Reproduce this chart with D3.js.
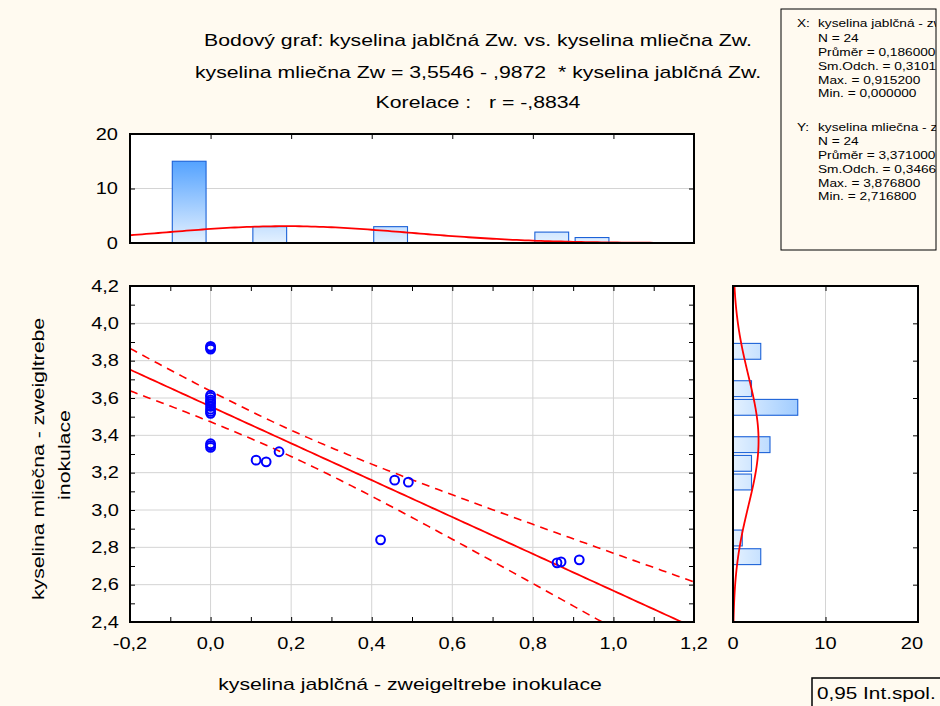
<!DOCTYPE html>
<html>
<head>
<meta charset="utf-8">
<script src="https://cdn.jsdelivr.net/npm/d3@7"></script>
<style>
body { margin: 0; background: #fffaf0; }
text { font-family: "Liberation Sans", Arial, sans-serif; fill: #000; white-space: pre; }
</style>
</head>
<body>
<div id="chart"></div>
<script>
// data
var xVals = [0, 0, 0, 0, 0, 0, 0, 0, 0, 0, 0, 0, 0, 0, 0,
    0.113, 0.138, 0.170, 0.422, 0.457, 0.491, 0.860, 0.870, 0.9152];
var yVals = [3.8768, 3.870, 3.862, 3.615, 3.605, 3.590, 3.580, 3.570, 3.555, 3.540, 3.528, 3.518, 3.355, 3.345, 3.335,
    3.267, 3.258, 3.312, 2.840, 3.160, 3.149, 2.7168, 2.722, 2.733];

// histogram bins (start of bin, width 0.1) and counts
var xBinStart = [-0.1, 0.1, 0.4, 0.8, 0.9];
var xBinCount = [15, 3, 3, 2, 1];
var yBinStart = [3.8, 3.6, 3.5, 3.3, 3.2, 3.1, 2.8, 2.7];
var yBinCount = [3, 2, 7, 4, 2, 2, 1, 3];
var binWidth = 0.1;

var xTicks = [-0.2, 0, 0.2, 0.4, 0.6, 0.8, 1.0, 1.2];
var yTicks = [2.4, 2.6, 2.8, 3.0, 3.2, 3.4, 3.6, 3.8, 4.0, 4.2];
var countTicks = [0, 10, 20];

// fit and summary values printed on the chart
var intercept = 3.5546, slope = -0.9872, r = -0.8834;
var n = 24, xMean = 0.186, xSd = 0.3101, yMean = 3.371, ySd = 0.3466;
var tCrit = 2.074; // t(0.975, 22)

var titleLines = [
    "Bodový graf: kyselina jablčná Zw. vs. kyselina mliečna Zw.",
    "kyselina mliečna Zw = 3,5546 - ,9872  * kyselina jablčná Zw.",
    "Korelace :   r = -,8834"
];
var statsX = ["N = 24", "Průměr = 0,186000", "Sm.Odch. = 0,310140", "Max. = 0,915200", "Min. = 0,000000"];
var statsY = ["N = 24", "Průměr = 3,371000", "Sm.Odch. = 0,346642", "Max. = 3,876800", "Min. = 2,716800"];

var sx = 1.25; // text is drawn wide in the original

var svg = d3.select('#chart').append('svg')
    .attr('width', 940)
    .attr('height', 706);

svg.append('rect').attr('width', 940).attr('height', 706).attr('fill', '#fffaf0');

var defs = svg.append('defs');

function label(parent, x, y, str, size, anchor, rotate, stretch) {
    return parent.append('text')
        .attr('transform', 'translate(' + x + ',' + y + ')' + (rotate ? ' rotate(-90)' : '') + ' scale(' + (stretch || sx) + ',1)')
        .attr('text-anchor', anchor || 'start')
        .attr('dy', '0.35em')
        .attr('xml:space', 'preserve')
        .style('font-size', size + 'px')
        .text(str);
}

var locale = d3.formatLocale({decimal: ",", thousands: " ", grouping: [3], currency: ["", ""], minus: "-"});
var fmt1 = locale.format(".1f");

// scales
var x = d3.scaleLinear().domain([-0.2, 1.2]).range([130, 694]);
var y = d3.scaleLinear().domain([2.4, 4.2]).range([622, 286]);
var cTop = d3.scaleLinear().domain([0, 20]).range([243, 134]);
var cRight = d3.scaleLinear().domain([0, 20]).range([733, 918]);

// gradients
var gTop = defs.append('linearGradient').attr('id', 'gTop')
    .attr('gradientUnits', 'userSpaceOnUse')
    .attr('x1', 0).attr('y1', cTop(0)).attr('x2', 0).attr('y2', cTop(20));
gTop.append('stop').attr('offset', 0).attr('stop-color', '#e4f1ff');
gTop.append('stop').attr('offset', 1).attr('stop-color', '#2488ff');
var gRight = defs.append('linearGradient').attr('id', 'gRight')
    .attr('gradientUnits', 'userSpaceOnUse')
    .attr('x1', cRight(0)).attr('y1', 0).attr('x2', cRight(20)).attr('y2', 0);
gRight.append('stop').attr('offset', 0).attr('stop-color', '#e4f1ff');
gRight.append('stop').attr('offset', 1).attr('stop-color', '#2488ff');

defs.append('clipPath').attr('id', 'clipMain').append('rect')
    .attr('x', 130).attr('y', 286).attr('width', 564).attr('height', 336);

// ---------- titles ----------
titleLines.forEach(function (t, i) {
    label(svg, 478, [40, 72, 102][i], t, 17, 'middle');
});

// ---------- main scatter ----------
var main = svg.append('g');
main.append('rect').attr('x', 130).attr('y', 286).attr('width', 564).attr('height', 336).attr('fill', '#fff');

main.selectAll('.vgrid').data(xTicks.slice(1, -1)).enter().append('line')
    .attr('x1', function (d) { return x(d); }).attr('x2', function (d) { return x(d); })
    .attr('y1', 286).attr('y2', 622)
    .attr('stroke', '#d4d4d4').attr('stroke-width', 1);
main.selectAll('.hgrid').data(yTicks.slice(1, -1)).enter().append('line')
    .attr('y1', function (d) { return y(d); }).attr('y2', function (d) { return y(d); })
    .attr('x1', 130).attr('x2', 694)
    .attr('stroke', '#d4d4d4').attr('stroke-width', 1);

// regression line and 95% bands
var sRes = ySd * Math.sqrt(1 - r * r) * Math.sqrt((n - 1) / (n - 2));
var sxx = (n - 1) * xSd * xSd;
function fit(v) { return intercept + slope * v; }
function half(v) { return tCrit * sRes * Math.sqrt(1 / n + (v - xMean) * (v - xMean) / sxx); }
var xs = d3.range(-0.2, 1.2001, 0.01);

var lineGen = d3.line().x(function (d) { return x(d[0]); }).y(function (d) { return y(d[1]); });
var lines = main.append('g').attr('clip-path', 'url(#clipMain)');
lines.append('path').attr('d', lineGen(xs.map(function (v) { return [v, fit(v)]; })))
    .attr('fill', 'none').attr('stroke', '#ff0000').attr('stroke-width', 1.8);
[1, -1].forEach(function (sgn) {
    lines.append('path').attr('d', lineGen(xs.map(function (v) { return [v, fit(v) + sgn * half(v)]; })))
        .attr('fill', 'none').attr('stroke', '#ff0000').attr('stroke-width', 1.6)
        .attr('stroke-dasharray', '8,6');
});

main.selectAll('.pt').data(xVals).enter().append('circle')
    .attr('cx', function (d) { return x(d); })
    .attr('cy', function (d, i) { return y(yVals[i]); })
    .attr('r', 4.4)
    .attr('fill', 'none').attr('stroke', '#0000ff').attr('stroke-width', 2);

// ticks every 0.1, inward, on all four sides
var xMinor = d3.range(-0.2, 1.2001, 0.1);
var yMinor = d3.range(2.4, 4.2001, 0.1);
main.append('g').attr('transform', 'translate(0,622)')
    .call(d3.axisBottom(x).tickValues(xMinor).tickSize(-5).tickFormat(''));
main.append('g').attr('transform', 'translate(0,286)')
    .call(d3.axisTop(x).tickValues(xMinor).tickSize(-5).tickFormat(''));
main.append('g').attr('transform', 'translate(130,0)')
    .call(d3.axisLeft(y).tickValues(yMinor).tickSize(-5).tickFormat(''));
main.append('g').attr('transform', 'translate(694,0)')
    .call(d3.axisRight(y).tickValues(yMinor).tickSize(-5).tickFormat(''));
main.selectAll('.domain').remove();

xTicks.forEach(function (d) {
    label(main, x(d), 643, fmt1(d), 16, 'middle');
});
yTicks.forEach(function (d) {
    label(main, 119, y(d), fmt1(d), 16, 'end');
});

main.append('rect').attr('x', 130).attr('y', 286).attr('width', 564).attr('height', 336)
    .attr('fill', 'none').attr('stroke', '#000').attr('stroke-width', 2);

label(svg, 410, 684, "kyselina jablčná - zweigeltrebe inokulace", 17, 'middle');
label(svg, 38, 459, "kyselina mliečna - zweigltrebe", 17, 'middle', true);
label(svg, 64, 455, "inokulace", 17, 'middle', true);

// ---------- top histogram ----------
var topHist = svg.append('g');
topHist.append('rect').attr('x', 130).attr('y', 134).attr('width', 564).attr('height', 109).attr('fill', '#fff');
topHist.append('line').attr('x1', 130).attr('x2', 694).attr('y1', cTop(10)).attr('y2', cTop(10))
    .attr('stroke', '#d4d4d4');
topHist.selectAll('.bar').data(xBinStart).enter().append('rect')
    .attr('x', function (d) { return x(d) + 2; })
    .attr('width', function (d) { return x(d + binWidth) - x(d) - 6.5; })
    .attr('y', function (d, i) { return cTop(xBinCount[i]); })
    .attr('height', function (d, i) { return cTop(0) - cTop(xBinCount[i]); })
    .attr('fill', 'url(#gTop)').attr('stroke', '#1c62d8').attr('stroke-width', 1.1);

function normCount(v, m, s) {
    return n * binWidth * Math.exp(-0.5 * Math.pow((v - m) / s, 2)) / (s * Math.sqrt(2 * Math.PI));
}
topHist.append('path')
    .attr('d', d3.line().x(function (v) { return x(v); }).y(function (v) { return cTop(normCount(v, xMean, xSd)); })(xs))
    .attr('fill', 'none').attr('stroke', '#ff0000').attr('stroke-width', 1.8);

topHist.append('g').attr('transform', 'translate(0,134)')
    .call(d3.axisTop(x).tickValues(xTicks).tickSize(-5).tickFormat(''));
topHist.append('g').attr('transform', 'translate(130,0)')
    .call(d3.axisLeft(cTop).tickValues(countTicks).tickSize(-5).tickFormat(''));
topHist.append('g').attr('transform', 'translate(694,0)')
    .call(d3.axisRight(cTop).tickValues(countTicks).tickSize(-5).tickFormat(''));
topHist.selectAll('.domain').remove();
countTicks.forEach(function (d) {
    label(topHist, 118, cTop(d), String(d), 16, 'end');
});
topHist.append('rect').attr('x', 130).attr('y', 134).attr('width', 564).attr('height', 109)
    .attr('fill', 'none').attr('stroke', '#000').attr('stroke-width', 2);

// ---------- right histogram ----------
var side = svg.append('g');
side.append('rect').attr('x', 733).attr('y', 286).attr('width', 185).attr('height', 336).attr('fill', '#fff');
side.append('line').attr('x1', cRight(10)).attr('x2', cRight(10)).attr('y1', 286).attr('y2', 622)
    .attr('stroke', '#d4d4d4');
side.selectAll('.bar').data(yBinStart).enter().append('rect')
    .attr('x', cRight(0))
    .attr('width', function (d, i) { return cRight(yBinCount[i]) - cRight(0); })
    .attr('y', function (d) { return y(d + binWidth) + 1.4; })
    .attr('height', function (d) { return y(d) - y(d + binWidth) - 2.8; })
    .attr('fill', 'url(#gRight)').attr('stroke', '#1c62d8').attr('stroke-width', 1.1);

var ys = d3.range(2.4, 4.2001, 0.01);
side.append('path')
    .attr('d', d3.line().x(function (v) { return cRight(normCount(v, yMean, ySd)); }).y(function (v) { return y(v); })(ys))
    .attr('fill', 'none').attr('stroke', '#ff0000').attr('stroke-width', 1.8);

side.append('g').attr('transform', 'translate(918,0)')
    .call(d3.axisRight(y).tickValues(yTicks).tickSize(-5).tickFormat(''));
side.append('g').attr('transform', 'translate(0,622)')
    .call(d3.axisBottom(cRight).tickValues(countTicks).tickSize(-5).tickFormat(''));
side.append('g').attr('transform', 'translate(0,286)')
    .call(d3.axisTop(cRight).tickValues(countTicks).tickSize(-5).tickFormat(''));
side.selectAll('.domain').remove();
countTicks.forEach(function (d) {
    label(side, cRight(d) - (d === 20 ? 6 : 0), 643, String(d), 16, 'middle');
});
side.append('rect').attr('x', 733).attr('y', 286).attr('width', 185).attr('height', 336)
    .attr('fill', 'none').attr('stroke', '#000').attr('stroke-width', 2);

// ---------- stats box (text is cut by the box edge, as in the original) ----------
defs.append('clipPath').attr('id', 'clipStats').append('rect')
    .attr('x', 781).attr('y', 9).attr('width', 155).attr('height', 241);
var box = svg.append('g');
box.append('rect').attr('x', 781).attr('y', 9).attr('width', 155).attr('height', 241)
    .attr('fill', '#fffaf0').attr('stroke', '#000').attr('stroke-width', 1);
var boxText = box.append('g').attr('clip-path', 'url(#clipStats)');
var bs = 1.16;
label(boxText, 797, 23, "X:", 11.8, 'start', false, bs);
label(boxText, 818, 23, "kyselina jablčná - zweigeltrebe inokulace", 11.8, 'start', false, bs);
statsX.forEach(function (s, i) { label(boxText, 818, 38 + i * 13.8, s, 11.8, 'start', false, bs); });
label(boxText, 797, 127, "Y:", 11.8, 'start', false, bs);
label(boxText, 818, 127, "kyselina mliečna - zweigeltrebe inokulace", 11.8, 'start', false, bs);
statsY.forEach(function (s, i) { label(boxText, 818, 141 + i * 13.8, s, 11.8, 'start', false, bs); });

// ---------- legend ----------
svg.append('rect').attr('x', 812).attr('y', 678).attr('width', 140).attr('height', 40)
    .attr('fill', '#fffaf0').attr('stroke', '#000').attr('stroke-width', 1.5);
label(svg, 817, 693, "0,95 Int.spol.", 17, 'start', false, 1.22);
</script>
</body>
</html>
